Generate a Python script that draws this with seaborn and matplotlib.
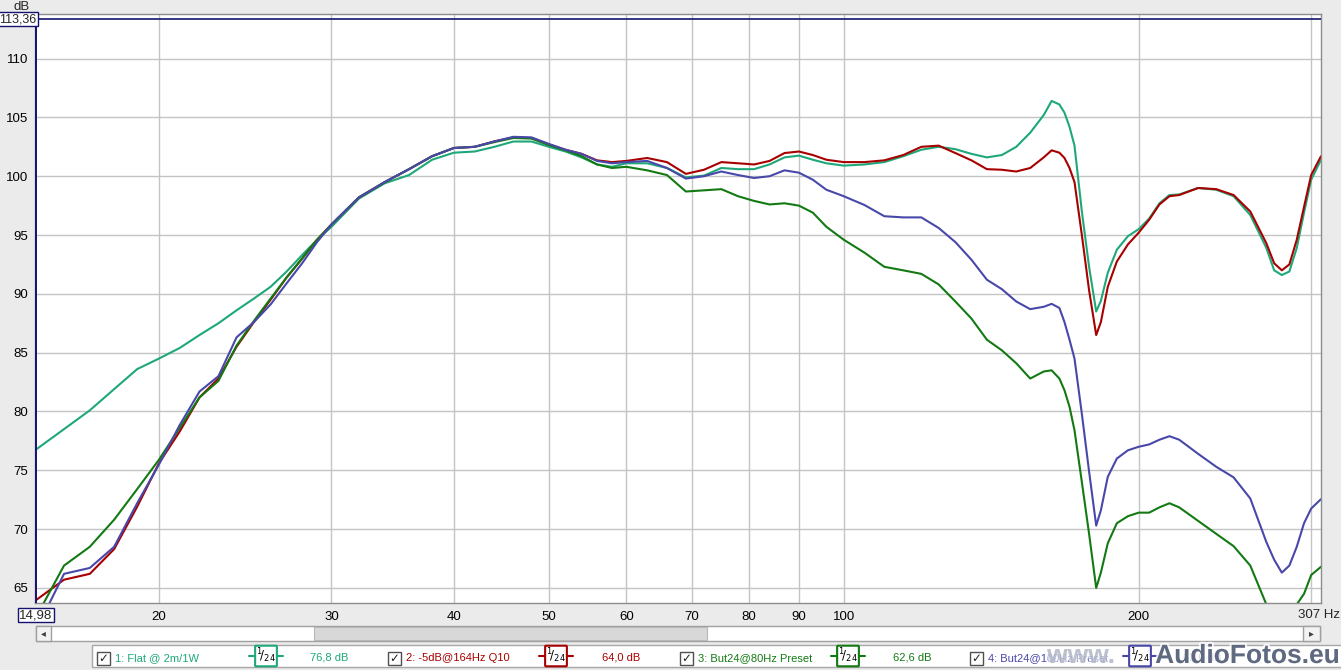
"""
REW-style SPL overlay: flat response vs. PEQ and Butterworth high-pass presets.
"""

import numpy as np
import pandas as pd
import seaborn as sns
import matplotlib.pyplot as plt
import matplotlib.patheffects as pe
from matplotlib.patches import Rectangle
from matplotlib.ticker import NullLocator


# ---------------------------------------------------------------------------
# Data
# ---------------------------------------------------------------------------

freq_hz = [15, 16, 17, 18, 19, 20, 21, 22, 23, 24, 25, 26, 27, 28, 29, 30,
           32, 34, 36, 38, 40, 42, 44, 46, 48, 50, 52, 54, 56, 58, 60, 63,
           66, 69, 72, 75, 78, 81, 84, 87, 90, 93, 96, 100, 105, 110, 115,
           120, 125, 130, 135, 140, 145, 150, 155, 160, 163, 166, 168, 170,
           172, 175, 178, 181, 183, 186, 190, 195, 200, 205, 210, 215, 220,
           230, 240, 250, 260, 270, 275, 280, 285, 290, 295, 300, 307]

flat_2m = [76.8, 78.5, 80.1, 81.9, 83.6, 84.5, 85.4, 86.5, 87.5, 88.6, 89.6,
           90.6, 91.9, 93.3, 94.6, 95.7, 98.1, 99.4, 100.1, 101.4, 102.0,
           102.1, 102.5, 102.95, 102.95, 102.5, 102.1, 101.6, 101.0, 100.8,
           101.1, 101.1, 100.7, 99.9, 100.05, 100.7, 100.6, 100.6, 101.0,
           101.6, 101.75, 101.4, 101.1, 100.9, 101.0, 101.2, 101.7, 102.25,
           102.5, 102.3, 101.9, 101.6, 101.8, 102.5, 103.7, 105.2, 106.4,
           106.1, 105.4, 104.2, 102.6, 97.0, 92.3, 88.5, 89.4, 91.8, 93.75,
           94.9, 95.5, 96.4, 97.7, 98.4, 98.45, 99.0, 98.85, 98.3, 96.7,
           93.9, 92.0, 91.6, 91.9, 93.9, 96.9, 99.7, 101.4]

peq_164 = [64.0, 65.7, 66.2, 68.3, 71.9, 75.6, 78.3, 81.2, 82.8, 85.5, 87.6,
           89.5, 91.4, 93.0, 94.6, 95.9, 98.2, 99.5, 100.6, 101.7, 102.4,
           102.5, 102.96, 103.3, 103.25, 102.7, 102.25, 101.9, 101.35, 101.2,
           101.3, 101.55, 101.2, 100.2, 100.55, 101.2, 101.1, 101.0, 101.3,
           101.97, 102.1, 101.8, 101.4, 101.2, 101.2, 101.35, 101.8, 102.5,
           102.6, 101.97, 101.35, 100.6, 100.55, 100.4, 100.7, 101.6, 102.2,
           102.0, 101.55, 100.7, 99.5, 95.0, 90.3, 86.5, 87.6, 90.6, 92.75,
           94.2, 95.2, 96.3, 97.6, 98.3, 98.4, 99.0, 98.9, 98.4, 97.0, 94.3,
           92.6, 92.0, 92.5, 94.6, 97.4, 100.1, 101.7]

but24_80 = [62.6, 66.9, 68.5, 70.8, 73.4, 75.9, 78.6, 81.2, 82.6, 85.6, 87.7,
            89.6, 91.4, 93.0, 94.6, 95.9, 98.2, 99.5, 100.6, 101.7, 102.4,
            102.5, 102.9, 103.25, 103.2, 102.65, 102.2, 101.7, 101.0, 100.7,
            100.8, 100.5, 100.1, 98.7, 98.8, 98.9, 98.3, 97.9, 97.6, 97.7,
            97.5, 96.9, 95.7, 94.6, 93.5, 92.3, 92.0, 91.7, 90.8, 89.35, 87.9,
            86.1, 85.2, 84.1, 82.8, 83.4, 83.5, 82.8, 81.8, 80.4, 78.4, 74.0,
            69.6, 65.0, 66.3, 68.8, 70.5, 71.1, 71.4, 71.4, 71.85, 72.2, 71.85,
            70.7, 69.6, 68.55, 66.9, 63.6, 62.8, 62.3, 62.8, 63.6, 64.5, 66.1,
            66.8]

but24_100 = [61.5, 66.2, 66.7, 68.5, 72.2, 75.5, 78.85, 81.7, 83.0, 86.3,
             87.6, 89.1, 90.9, 92.6, 94.4, 95.9, 98.2, 99.5, 100.6, 101.7,
             102.4, 102.5, 102.96, 103.35, 103.3, 102.75, 102.25, 101.9, 101.3,
             101.1, 101.2, 101.3, 100.7, 99.8, 100.0, 100.4, 100.1, 99.85,
             100.0, 100.5, 100.3, 99.7, 98.85, 98.3, 97.55, 96.6, 96.5, 96.5,
             95.6, 94.4, 92.9, 91.2, 90.4, 89.35, 88.7, 88.9, 89.15, 88.8,
             87.6, 86.1, 84.5, 79.8, 74.9, 70.3, 71.6, 74.45, 76.0, 76.7, 77.0,
             77.2, 77.6, 77.9, 77.6, 76.4, 75.3, 74.4, 72.6, 68.9, 67.4, 66.3,
             66.9, 68.5, 70.5, 71.75, 72.55]

series_names = ["1: Flat @ 2m/1W", "2: -5dB@164Hz Q10",
                "3: But24@80Hz Preset", "4: But24@100Hz Preset"]
series_colors = ["#1ea87a", "#a80000", "#137a13", "#4848aa"]
cursor_values = ["76,8 dB", "64,0 dB", "62,6 dB", "62,0 dB"]

x_ticks = [20, 30, 40, 50, 60, 70, 80, 90, 100, 200, 300]
x_labels = ["20", "30", "40", "50", "60", "70", "80", "90", "100", "200", ""]
y_ticks = [65, 70, 75, 80, 85, 90, 95, 100, 105, 110]

cursor_hz = 14.98
cursor_db = 113.36


# ---------------------------------------------------------------------------
# Style
# ---------------------------------------------------------------------------

sns.set_style("white")
plt.rcParams["font.family"] = ["Liberation Sans", "DejaVu Sans"]

W, H = 1341, 670
NAVY = "#14146e"
BG = "#ebebeb"

df = pd.DataFrame({
    "freq": freq_hz * 4,
    "spl": flat_2m + peq_164 + but24_80 + but24_100,
    "trace": [n for n in series_names for _ in freq_hz],
})

fig = plt.figure(figsize=(W / 100, H / 100), dpi=100, facecolor=BG)
ax = fig.add_axes([35 / W, 1 - 603 / H, (1321 - 35) / W, (603 - 14) / H])


def fx(x):
    return x / W


def fy(y):
    return 1 - y / H


def box(x0, y0, x1, y1, **kw):
    fig.add_artist(Rectangle((fx(x0), fy(y1)), (x1 - x0) / W, (y1 - y0) / H,
                             transform=fig.transFigure, **kw))


# ---------------------------------------------------------------------------
# Plot
# ---------------------------------------------------------------------------

sns.lineplot(data=df, x="freq", y="spl", hue="trace", hue_order=series_names,
             palette=dict(zip(series_names, series_colors)), estimator=None,
             sort=False, linewidth=1.5, legend=False, ax=ax)

ax.set_xscale("log")
ax.set_xlim(14.945, 307)
ax.set_ylim(63.72, 113.79)
ax.set_xticks(x_ticks)
ax.set_xticklabels(x_labels)
ax.xaxis.set_minor_locator(NullLocator())
ax.set_yticks(y_ticks)
ax.set_yticklabels([str(v) for v in y_ticks])
ax.grid(True, color="#c4c4c4", linewidth=1)
ax.set_axisbelow(True)
ax.tick_params(length=0, labelsize=9.5, colors="black")
ax.tick_params(axis="x", pad=6)
ax.tick_params(axis="y", pad=5)
ax.set_xlabel("")
ax.set_ylabel("")
ax.set_facecolor("white")
for s in ax.spines.values():
    s.set_color("#8c8c8c")
    s.set_linewidth(1)

# cursor lines
ax.axhline(cursor_db, color=NAVY, linewidth=1.2, zorder=5)
ax.axvline(cursor_hz, color=NAVY, linewidth=1.4, zorder=5)

# axis annotations
fig.text(fx(22), fy(7), "dB", fontsize=9.5, ha="center", va="center")
fig.text(fx(18), fy(19), "113,36", fontsize=9, ha="center", va="center",
         bbox=dict(boxstyle="square,pad=0.08", fc="white", ec=NAVY, lw=1))
fig.text(fx(36), fy(615), "14,98", fontsize=9.5, ha="center", va="center",
         bbox=dict(boxstyle="square,pad=0.1", fc="white", ec=NAVY, lw=1))
fig.text(fx(1340), fy(615), "307 Hz", fontsize=9.5, ha="right", va="center")

# scrollbar
box(36, 626, 1320, 641, fc="white", ec="#a0a0a0", lw=1)
box(314, 627, 707, 640, fc="#d8d8d8", ec="#b8b8b8", lw=0.8)
box(36, 626, 51, 641, fc="#f2f2f2", ec="#a0a0a0", lw=1)
box(1303, 626, 1320, 641, fc="#f2f2f2", ec="#a0a0a0", lw=1)
fig.text(fx(43.5), fy(633.5), "\u25c2", fontsize=7, ha="center", va="center",
         color="#404040")
fig.text(fx(1311.5), fy(633.5), "\u25b8", fontsize=7, ha="center",
         va="center", color="#404040")

# legend bar
box(92, 645, 1345, 667, fc="white", ec="#a8a8a8", lw=1)
entry_x = [97, 388, 680, 970]
badge_x = [266, 556, 848, 1140]
value_x = [310, 602, 893, 1183]
for i, name in enumerate(series_names):
    c = series_colors[i]
    box(entry_x[i], 652, entry_x[i] + 13, 665, fc="white", ec="#505050",
        lw=1)
    fig.text(fx(entry_x[i] + 6.5), fy(658.5), "\u2713", fontsize=8.5,
             ha="center", va="center", color="#202020",
             family=["DejaVu Sans"])
    fig.text(fx(entry_x[i] + 18), fy(658), name, fontsize=8, ha="left",
             va="center", color=c)
    fig.add_artist(plt.Line2D([fx(badge_x[i] - 17), fx(badge_x[i] + 17)],
                              [fy(656), fy(656)], color=c, lw=1.5,
                              transform=fig.transFigure))
    fig.text(fx(badge_x[i]), fy(656), r"$^{1}\!/_{24}$", fontsize=8.5,
             ha="center", va="center", color="black",
             bbox=dict(boxstyle="round,pad=0.08", fc="white", ec=c, lw=1.5))
    fig.text(fx(value_x[i]), fy(658), cursor_values[i], fontsize=8,
             ha="left", va="center", color=c)

# watermark (sits over the last legend entry, as in the screenshot)
halo = [pe.withStroke(linewidth=3, foreground="white")]
fig.text(fx(1115), fy(656), "www.", fontsize=19, fontweight="bold",
         ha="right", va="center", color="#9aa3b5", alpha=0.55,
         path_effects=halo)
fig.text(fx(1340), fy(656), "AudioFotos.eu", fontsize=19, fontweight="bold",
         ha="right", va="center", color="#3f4b66", alpha=0.8,
         path_effects=halo)

fig.savefig("out.png", dpi=100, facecolor=BG)
